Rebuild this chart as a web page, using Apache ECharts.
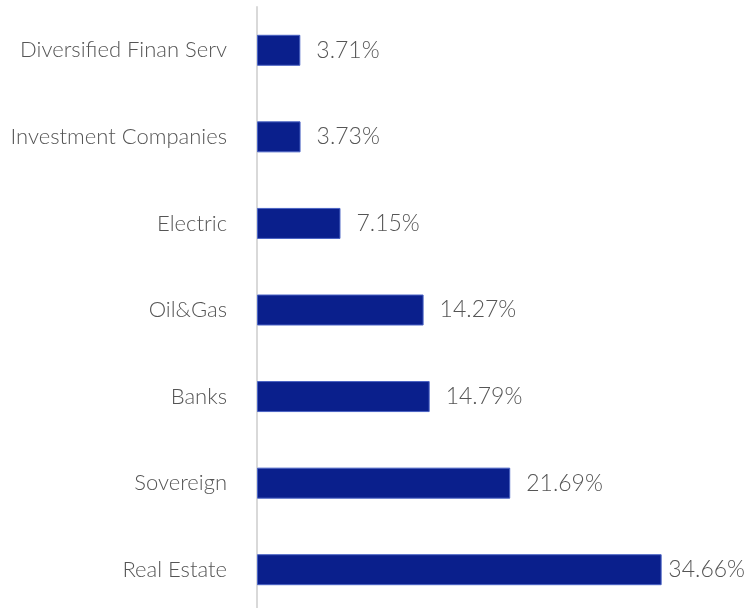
<!DOCTYPE html>
<html><head><meta charset="utf-8">
<script src="https://cdn.jsdelivr.net/npm/echarts@6/dist/echarts.min.js"></script>
<style>html,body{margin:0;padding:0;background:#fff}#c{width:746px;height:608px}</style>
</head><body><div id="c"></div>
<script>
const categories = ["Diversified Finan Serv","Investment Companies","Electric","Oil&Gas","Banks","Sovereign","Real Estate"];
const values = [3.71, 3.73, 7.15, 14.27, 14.79, 21.69, 34.66];

const chart = echarts.init(document.getElementById('c'));
const W = 746;
chart.setOption({
  animation: false,
  grid: { left: 257, width: 467, top: 7, height: 606, containLabel: false, outerBoundsMode: 'none' },
  xAxis: { type: 'value', min: 0, max: 40, show: false },
  yAxis: {
    type: 'category', data: categories, inverse: true,
    axisTick: { show: false },
    axisLine: { lineStyle: { color: '#d9d9d9', width: 2 } },
    axisLabel: { color: '#555', fontFamily: 'Lato', fontWeight: 300, fontSize: 22, margin: 30 }
  },
  series: [{
    type: 'bar', data: values, barWidth: 31,
    itemStyle: { color: '#0a1f8c', borderColor: '#4a63c4', borderWidth: 1 },
    label: {
      show: true, position: 'right', distance: 16,
      formatter: p => p.value.toFixed(2) + '%',
      color: '#555', fontFamily: 'Lato', fontWeight: 300, fontSize: 23
    },
    labelLayout: function (p) {
      const r = p.labelRect;
      const over = r.x + r.width - (W - 1);
      return over > 0 ? { dx: -over } : {};
    }
  }]
});
</script></body></html>
